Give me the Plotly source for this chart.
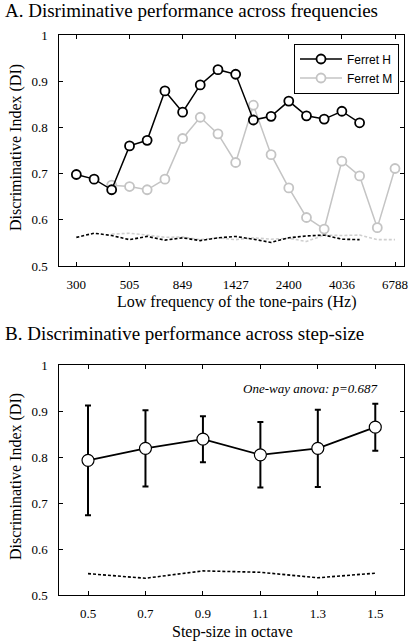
import plotly.graph_objects as go

# ---------------- data ----------------
freq_hz = [300, 357, 424, 505, 600, 714, 849, 1009, 1200, 1427, 1697, 2018,
           2400, 2854, 3394, 4036, 4800, 5708, 6788]
freq_ticks = [300, 505, 849, 1427, 2400, 4036, 6788]
freq_ticklabels = ["300", "505", "849", "1427", "2400", "4036", "6788"]

ferret_h_freq = freq_hz[0:17]
ferret_h_di = [0.698, 0.688, 0.665, 0.760, 0.772, 0.879, 0.833, 0.892, 0.925,
               0.915, 0.816, 0.824, 0.857, 0.825, 0.818, 0.835, 0.810]
ferret_h_chance = [0.562, 0.571, 0.566, 0.557, 0.564, 0.556, 0.561, 0.555, 0.561,
                   0.564, 0.558, 0.551, 0.561, 0.565, 0.567, 0.558, 0.557]

ferret_m_freq = freq_hz[2:19]
ferret_m_di = [0.675, 0.672, 0.665, 0.688, 0.776, 0.822, 0.786, 0.724, 0.848,
               0.741, 0.669, 0.605, 0.580, 0.727, 0.695, 0.583, 0.711]
ferret_m_chance = [0.569, 0.571, 0.567, 0.562, 0.563, 0.557, 0.561, 0.557, 0.561,
                   0.558, 0.560, 0.553, 0.567, 0.566, 0.567, 0.557, 0.557]

step_octave = [0.5, 0.7, 0.9, 1.1, 1.3, 1.5]
step_di = [0.793, 0.819, 0.839, 0.805, 0.819, 0.865]
step_err = [0.119, 0.083, 0.050, 0.071, 0.084, 0.051]
step_chance = [0.547, 0.537, 0.553, 0.550, 0.538, 0.548]

di_ticks = [0.5, 0.6, 0.7, 0.8, 0.9, 1.0]
di_ticklabels = ["0.5", "0.6", "0.7", "0.8", "0.9", "1"]

# ---------------- styling ----------------
W, H = 408, 642
SERIF = "Liberation Serif, Times New Roman, serif"
SANS = "Liberation Sans, Arial, sans-serif"
GRAY = "#c4c4c4"
GRAY_DASH = "#cfcfcf"


def px(xp):
    return xp / W


def py(yp):
    return 1 - yp / H


fig = go.Figure()

# ----- panel A -----
fig.add_trace(go.Scatter(x=ferret_m_freq, y=ferret_m_chance, mode="lines",
                         line=dict(color=GRAY_DASH, width=1.6, dash="3px,2px"),
                         showlegend=False, xaxis="x", yaxis="y"))
fig.add_trace(go.Scatter(x=ferret_h_freq, y=ferret_h_chance, mode="lines",
                         line=dict(color="black", width=1.6, dash="3px,2px"),
                         showlegend=False, xaxis="x", yaxis="y"))
fig.add_trace(go.Scatter(x=ferret_m_freq, y=ferret_m_di, mode="lines+markers",
                         name="Ferret M", legendrank=2,
                         line=dict(color=GRAY, width=1.5),
                         marker=dict(symbol="circle", size=9, color="white",
                                     line=dict(color=GRAY, width=1.8)),
                         xaxis="x", yaxis="y"))
fig.add_trace(go.Scatter(x=ferret_h_freq, y=ferret_h_di, mode="lines+markers",
                         name="Ferret H", legendrank=1,
                         line=dict(color="black", width=1.5),
                         marker=dict(symbol="circle", size=9, color="white",
                                     line=dict(color="black", width=1.8)),
                         xaxis="x", yaxis="y"))

# ----- panel B -----
fig.add_trace(go.Scatter(x=step_octave, y=step_chance, mode="lines",
                         line=dict(color="black", width=1.6, dash="3px,2px"),
                         showlegend=False, xaxis="x2", yaxis="y2"))
fig.add_trace(go.Scatter(x=step_octave, y=step_di, mode="lines+markers",
                         showlegend=False,
                         line=dict(color="black", width=1.8),
                         error_y=dict(type="data", array=step_err, visible=True,
                                      color="black", thickness=2, width=3),
                         marker=dict(symbol="circle", size=12, color="white",
                                     line=dict(color="black", width=1.2)),
                         xaxis="x2", yaxis="y2"))

axis_common = dict(showline=True, linecolor="black", linewidth=1, mirror="ticks",
                   ticks="inside", ticklen=4, tickcolor="black", tickwidth=1,
                   showgrid=False, zeroline=False, automargin=False,
                   tickfont=dict(family=SERIF, size=13, color="black"))

x_left, x_right = 59.3, 404

fig.update_layout(
    width=W, height=H,
    margin=dict(l=0, r=0, t=0, b=0, pad=0),
    paper_bgcolor="white", plot_bgcolor="white",
    showlegend=True,
    legend=dict(x=px(399), xanchor="right", y=py(43.5), yanchor="top",
                bgcolor="white", bordercolor="black", borderwidth=1,
                font=dict(family=SANS, size=12, color="black"),
                tracegroupgap=0, itemwidth=42),
    xaxis=dict(axis_common, type="log", domain=[px(x_left), px(x_right)],
               range=[2.4047, 3.870], tickvals=freq_ticks, ticktext=freq_ticklabels,
               anchor="y", ticklabelstandoff=6),
    yaxis=dict(axis_common, domain=[py(266), py(35)], range=[0.5, 1.0],
               tickvals=di_ticks, ticktext=di_ticklabels, anchor="x",
               ticklabelstandoff=8),
    xaxis2=dict(axis_common, domain=[px(x_left), px(x_right)], range=[0.4, 1.6],
                tickvals=step_octave, ticktext=[f"{v:.1f}" for v in step_octave],
                anchor="y2", ticklabelstandoff=6),
    yaxis2=dict(axis_common, domain=[py(595.3), py(365)], range=[0.5, 1.0],
                tickvals=di_ticks, ticktext=di_ticklabels, anchor="x2",
                ticklabelstandoff=8),
)

ann_font = dict(family=SERIF, color="black")
annotations = [
    dict(text="A. Disriminative performance across frequencies", x=px(3), y=py(11),
         xanchor="left", yanchor="middle", font=dict(ann_font, size=19)),
    dict(text="B. Discriminative performance across step-size", x=px(3), y=py(334),
         xanchor="left", yanchor="middle", font=dict(ann_font, size=19)),
    dict(text="Low frequency of the tone-pairs (Hz)", x=px(236), y=py(302),
         xanchor="center", yanchor="middle", font=dict(ann_font, size=16)),
    dict(text="Discriminative Index (DI)", x=px(16), y=py(148), textangle=-90,
         xanchor="center", yanchor="middle", font=dict(ann_font, size=16)),
    dict(text="Discriminative Index (DI)", x=px(16), y=py(477), textangle=-90,
         xanchor="center", yanchor="middle", font=dict(ann_font, size=16)),
    dict(text="Step-size in octave", x=px(232), y=py(632),
         xanchor="center", yanchor="middle", font=dict(ann_font, size=16)),
    dict(text="<i>One-way anova: p=0.687</i>", x=px(310), y=py(388),
         xanchor="center", yanchor="middle", font=dict(ann_font, size=13)),
]
for a in annotations:
    a.update(xref="paper", yref="paper", showarrow=False)
fig.update_layout(annotations=annotations)

# remove the browser's default 8px body margin so the figure sits at the window origin
fig.write_html("out.html",
               config={"displayModeBar": False},
               post_script="document.body.style.margin='0px'; document.body.style.overflow='hidden';")
